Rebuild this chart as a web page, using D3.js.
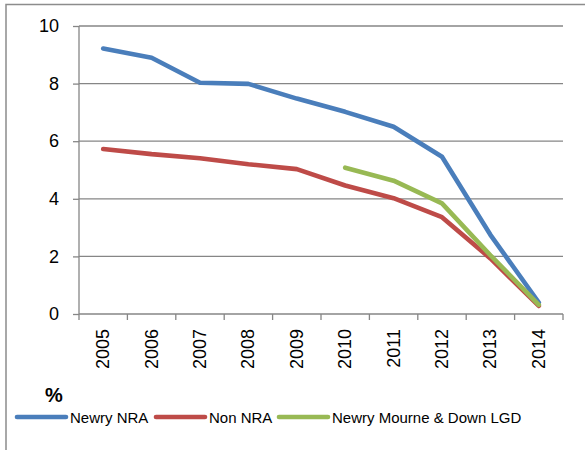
<!DOCTYPE html>
<html><head><meta charset="utf-8">
<script src="https://cdn.jsdelivr.net/npm/d3@7"></script>
<style>html,body{margin:0;padding:0;background:#fff;}svg{display:block;}</style>
</head><body>
<svg id="c" width="585" height="450"></svg>
<script>
const years = ["2005","2006","2007","2008","2009","2010","2011","2012","2013","2014"];
const newryNRA = [9.22, 8.90, 8.03, 7.99, 7.48, 7.02, 6.50, 5.46, 2.75, 0.40];
const nonNRA = [5.73, 5.55, 5.41, 5.20, 5.03, 4.46, 4.02, 3.36, 1.93, 0.28];
const newryLGD = [null, null, null, null, null, 5.08, 4.63, 3.84, 2.04, 0.32];
const yTicks = [0, 2, 4, 6, 8, 10];
const seriesNames = ["Newry NRA", "Non NRA", "Newry Mourne & Down LGD"];
const seriesColors = ["#4A7EBB", "#BE4B48", "#98B954"];
const unitLabel = "%";

const svg = d3.select("#c");
const font = "'Liberation Sans', Arial, sans-serif";
const grey = "#868686";

// outer frame
svg.append("path").attr("d", "M6,450 V4.5 H585").attr("fill", "none").attr("stroke", "#8c8c8c").attr("stroke-width", 1.5);

const x = d3.scaleBand().domain(years).range([79, 563]);
const y = d3.scaleLinear().domain([0, 10]).range([314, 26]);

// gridlines
svg.append("g").selectAll("line").data(yTicks.filter(d => d > 0)).join("line")
  .attr("x1", 79).attr("x2", 563).attr("y1", d => y(d)).attr("y2", d => y(d))
  .attr("stroke", grey).attr("stroke-width", 1.3);

// y axis
const ya = svg.append("g").attr("transform", "translate(79,0)")
  .call(d3.axisLeft(y).tickValues(yTicks).tickSize(6).tickPadding(14).tickFormat(d3.format("d")));
ya.select(".domain").attr("stroke", grey).attr("stroke-width", 1.3).attr("d", `M0,${y(0)}V${y(10)}`);
ya.selectAll(".tick line").attr("stroke", grey).attr("stroke-width", 1.3);
ya.selectAll(".tick text").attr("font-family", font).attr("font-size", 18).attr("fill", "#000");

// x axis
const xa = svg.append("g").attr("transform", `translate(0,${y(0)})`)
  .call(d3.axisBottom(x).tickSize(0).tickPadding(0));
xa.select(".domain").attr("stroke", grey).attr("stroke-width", 1.3).attr("d", "M79,0H563");
xa.append("g").selectAll("line").data(years.concat(["end"])).join("line")
  .attr("x1", (d, i) => 79 + i * x.step()).attr("x2", (d, i) => 79 + i * x.step())
  .attr("y1", 0).attr("y2", 6).attr("stroke", grey).attr("stroke-width", 1.3);
xa.selectAll(".tick text")
  .attr("font-family", font).attr("font-size", 18).attr("fill", "#000")
  .attr("text-anchor", "end").attr("dy", null)
  .attr("transform", "translate(6,15) rotate(-90)");

// lines
const line = d3.line().defined(d => d[1] !== null)
  .x(d => x(d[0]) + x.bandwidth() / 2).y(d => y(d[1]));
[newryNRA, nonNRA, newryLGD].forEach((vals, i) => {
  svg.append("path").datum(years.map((yr, j) => [yr, vals[j]]))
    .attr("d", line).attr("fill", "none").attr("stroke", seriesColors[i])
    .attr("stroke-width", 4.6).attr("stroke-linecap", "round").attr("stroke-linejoin", "round");
});

// unit label
svg.append("text").attr("x", 45).attr("y", 402).text(unitLabel)
  .attr("font-family", font).attr("font-size", 20).attr("font-weight", "bold");

// legend
const legX = [17, 156, 279];
const lg = svg.append("g").selectAll("g").data(seriesNames).join("g")
  .attr("transform", (d, i) => `translate(${legX[i]},417)`);
lg.append("line").attr("x1", 0).attr("x2", 49).attr("y1", 0).attr("y2", 0)
  .attr("stroke", (d, i) => seriesColors[i]).attr("stroke-width", 4.6).attr("stroke-linecap", "round");
lg.append("text").attr("x", 53).attr("y", 5.5).text(d => d)
  .attr("font-family", font).attr("font-size", 15).attr("fill", "#000");
</script>
</body></html>
